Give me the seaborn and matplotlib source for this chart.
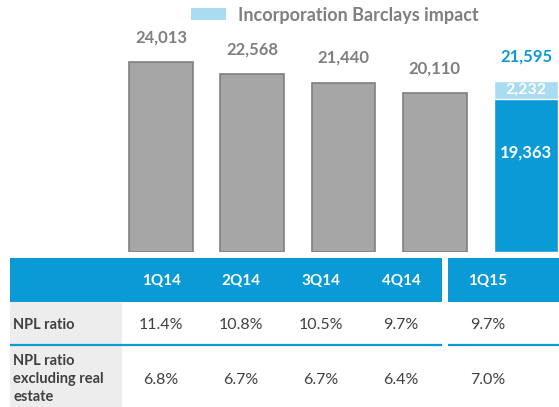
import matplotlib
matplotlib.use("Agg")
import matplotlib.pyplot as plt
from matplotlib.patches import Patch, Rectangle
import seaborn as sns
import pandas as pd

# Datos del gráfico
quarters = ["1Q14", "2Q14", "3Q14", "4Q14", "1Q15"]
npl_total = [24013, 22568, 21440, 20110, 21595]
npl_base_1q15 = 19363
barclays_impact = 2232
npl_ratio = ["11.4%", "10.8%", "10.5%", "9.7%", "9.7%"]
npl_ratio_ex_re = ["6.8%", "6.7%", "6.7%", "6.4%", "7.0%"]
row_labels = ["NPL ratio", "NPL ratio\nexcluding real\nestate"]
legend_label = "Incorporation Barclays impact"

GRAY = "#a6a6a6"
GRAY_EDGE = "#808080"
BLUE = "#0a9ad6"
LIGHT_BLUE = "#a9dbf1"
TXT_GRAY = "#7f7f7f"
TXT_DARK = "#404040"

sns.set_theme(style="white")
plt.rcParams["font.family"] = ["Lato", "DejaVu Sans"]

W, H = 559, 407
fig = plt.figure(figsize=(W / 100, H / 100), dpi=100)

# Eje de barras (línea base a 252 px desde arriba)
ax = fig.add_axes([0, (H - 252) / H, 1, 252 / H])
df = pd.DataFrame({"quarter": quarters, "total": npl_total})
colors = [GRAY] * 4 + [LIGHT_BLUE]
sns.barplot(data=df, x="quarter", y="total", hue="quarter", palette=colors,
            width=0.7, legend=False, ax=ax, saturation=1)
for p in ax.patches[:4]:
    p.set_edgecolor(GRAY_EDGE)
    p.set_linewidth(1.2)

base_df = pd.DataFrame({"quarter": ["1Q15"], "val": [npl_base_1q15]})
sns.barplot(data=base_df, x="quarter", y="val", order=quarters, color=BLUE,
            width=0.7, ax=ax, saturation=1)

ax.set_xlim(-161 / 91.25, (W - 161) / 91.25)
ax.set_ylim(0, 252 / 0.0079)
ax.axis("off")

# Etiquetas de valores
for i, v in enumerate(npl_total):
    col = BLUE if i == 4 else TXT_GRAY
    ax.annotate(f"{v:,}", (i, v), xytext=(0, 12), textcoords="offset points",
                ha="center", va="bottom", fontsize=12, fontweight="bold", color=col)
ax.text(4, npl_base_1q15 + barclays_impact / 2, f"{barclays_impact:,}",
        ha="center", va="center", fontsize=11.5, fontweight="bold", color="white")
ax.text(4, npl_base_1q15 * 0.65, f"{npl_base_1q15:,}",
        ha="center", va="center", fontsize=12, fontweight="bold", color="white")

# Leyenda
fig.legend(handles=[Patch(facecolor=LIGHT_BLUE, edgecolor="none")],
           labels=[legend_label], loc="center left",
           bbox_to_anchor=(175 / W, 1 - 15 / H), frameon=False,
           handlelength=1.9, handleheight=0.65, handletextpad=0.7,
           prop={"weight": "bold", "size": 13}, labelcolor=TXT_GRAY)

# Tabla inferior en coordenadas de píxel
tb = fig.add_axes([0, 0, 1, (H - 252) / H])
tb.set_xlim(0, W)
tb.set_ylim(H, 252)
tb.axis("off")

col_x = [161, 241, 321, 401, 488]
blocks = [(10, 442), (448, W)]
for x0, x1 in blocks:
    tb.add_patch(Rectangle((x0, 258), x1 - x0, 44, color=BLUE, lw=0))
    tb.plot([x0, x1], [344.5, 344.5], color=BLUE, lw=1.6, solid_capstyle="butt")
tb.add_patch(Rectangle((10, 302), 112, 41.5, color="#ededed", lw=0))
tb.add_patch(Rectangle((10, 346), 112, 61, color="#ededed", lw=0))

for x, q in zip(col_x, quarters):
    tb.text(x, 281, q, ha="center", va="center", color="white",
            fontsize=11, fontweight="bold")
for x, v in zip(col_x, npl_ratio):
    tb.text(x, 325, v, ha="center", va="center", color=TXT_DARK, fontsize=11.5)
for x, v in zip(col_x, npl_ratio_ex_re):
    tb.text(x, 380, v, ha="center", va="center", color=TXT_DARK, fontsize=11.5)

tb.text(13, 325, row_labels[0], ha="left", va="center", color=TXT_DARK,
        fontsize=10.5, fontweight="bold")
tb.text(13, 379, row_labels[1], ha="left", va="center", color=TXT_DARK,
        fontsize=10.5, fontweight="bold", linespacing=1.4)

fig.savefig("out.png", dpi=100)
